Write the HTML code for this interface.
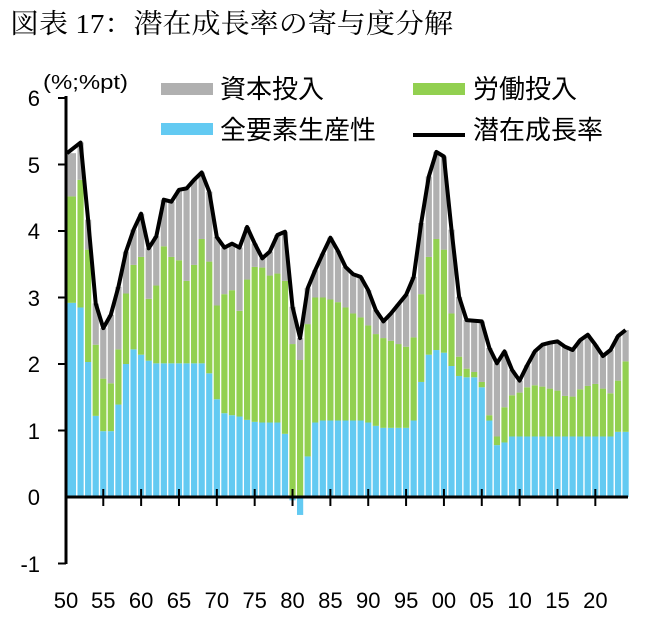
<!DOCTYPE html>
<html><head><meta charset="utf-8">
<style>
body{margin:0;background:#fff;width:672px;height:624px;overflow:hidden}
svg{display:block}
.t{font-family:"Liberation Sans","Noto Sans CJK JP",sans-serif;fill:#000}
</style></head><body>
<svg id="s" width="672" height="624" xmlns="http://www.w3.org/2000/svg">
<text x="10" y="33" textLength="443" lengthAdjust="spacingAndGlyphs" style="font-family:'Liberation Serif','Noto Serif CJK SC',serif;font-size:27px">図表 17：潜在成長率の寄与度分解</text>
<g id="bars"></g>
<polyline id="ln" fill="none" stroke="#000" stroke-width="4" stroke-linejoin="round"/>
<line x1="66" y1="96" x2="66" y2="564" stroke="#000" stroke-width="3"/>
<line x1="66" y1="497" x2="628" y2="497" stroke="#000" stroke-width="3"/>
<g id="ticks" stroke="#000" stroke-width="2"></g>
<g class="t" font-size="22" text-anchor="end">
<text x="40" y="106">6</text><text x="40" y="173">5</text><text x="40" y="239">4</text>
<text x="40" y="306">3</text><text x="40" y="372">2</text><text x="40" y="439">1</text>
<text x="40" y="505">0</text><text x="40" y="572">-1</text>
</g>
<text class="t" x="43" y="89" font-size="20" textLength="85" lengthAdjust="spacingAndGlyphs">(%;%pt)</text>
<g class="t" font-size="22" text-anchor="middle" id="xl"></g>
<rect x="161" y="83" width="52" height="12" fill="#b0b0b0"/>
<text class="t" x="220" y="98" font-size="26">資本投入</text>
<rect x="413" y="83" width="52" height="12" fill="#92d050"/>
<text class="t" x="473" y="98" font-size="26">労働投入</text>
<rect x="161" y="123" width="52" height="12" fill="#63caf2"/>
<text class="t" x="220" y="139" font-size="26">全要素生産性</text>
<line x1="413" y1="135" x2="465" y2="135" stroke="#000" stroke-width="4"/>
<text class="t" x="473" y="139" font-size="26">潜在成長率</text>
</svg>
<script>
var B=[2.92,2.85,2.03,1.22,0.99,0.99,1.39,2.0,2.22,2.14,2.05,2.01,2.01,2.01,2.01,2.01,2.01,2.01,1.86,1.47,1.26,1.23,1.21,1.16,1.13,1.12,1.12,1.12,0.95,-0.05,-0.27,0.61,1.12,1.15,1.15,1.15,1.15,1.15,1.15,1.12,1.07,1.04,1.04,1.04,1.04,1.15,1.73,2.14,2.21,2.17,1.97,1.82,1.80,1.80,1.65,1.15,0.78,0.82,0.91,0.91,0.91,0.91,0.91,0.91,0.91,0.91,0.91,0.91,0.91,0.91,0.91,0.91,0.98,0.98];
var G=[4.52,4.77,3.72,2.29,1.78,1.71,2.22,3.06,3.49,3.61,2.98,3.18,3.77,3.61,3.56,3.25,3.49,3.88,3.54,2.88,3.05,3.11,2.80,3.27,3.46,3.45,3.33,3.36,3.25,2.30,2.06,2.60,3.0,3.0,2.97,2.93,2.85,2.76,2.70,2.58,2.45,2.39,2.35,2.30,2.26,2.40,3.05,3.61,3.88,3.72,2.76,2.11,1.93,1.88,1.73,1.23,0.91,1.35,1.53,1.57,1.65,1.68,1.66,1.63,1.60,1.52,1.51,1.62,1.67,1.70,1.63,1.56,1.75,2.04];
var L=[5.17,5.33,4.17,2.91,2.54,2.74,3.16,3.69,4.02,4.26,3.74,3.92,4.47,4.44,4.62,4.64,4.77,4.88,4.59,3.91,3.75,3.81,3.75,4.06,3.81,3.59,3.69,3.94,3.99,2.86,2.39,3.14,3.41,3.66,3.90,3.70,3.46,3.35,3.31,3.11,2.81,2.64,2.76,2.90,3.04,3.31,4.12,4.82,5.19,5.12,4.02,3.01,2.66,2.65,2.64,2.24,2.01,2.19,1.91,1.75,1.98,2.19,2.29,2.32,2.34,2.26,2.21,2.36,2.44,2.29,2.12,2.21,2.42,2.51];
function Y(v){return 497-v*66.5}
var ns="http://www.w3.org/2000/svg",g=document.getElementById('bars'),pts=[];
function R(x,w,a,b,c){var y1=Y(Math.max(a,b)),y2=Y(Math.min(a,b));var r=document.createElementNS(ns,'rect');r.setAttribute('x',x);r.setAttribute('y',y1);r.setAttribute('width',w);r.setAttribute('height',Math.max(0,y2-y1));r.setAttribute('fill',c);g.appendChild(r);}
for(var i=0;i<74;i++){var cx=73+7.57*i,x=cx-3.1,w=6.2;if(i==0){x=67;w=9;}
var b=B[i],gg=G[i],l=L[i];
R(x,w,0,b,'#63caf2');R(x,w,Math.max(b,0),gg,'#92d050');if(l>gg)R(x,w,gg,l,'#b0b0b0');
pts.push((i==0?67:cx).toFixed(1)+','+Y(l).toFixed(1));}
document.getElementById('ln').setAttribute('points',pts.join(' '));
var tk=document.getElementById('ticks'),xl=document.getElementById('xl');
var labs=['50','55','60','65','70','75','80','85','90','95','00','05','10','15','20'];
for(var k=0;k<15;k++){var x=k==0?66:73+7.57*(5*k-1);
if(k>0){var t=document.createElementNS(ns,'line');t.setAttribute('x1',x);t.setAttribute('x2',x);t.setAttribute('y1',489);t.setAttribute('y2',506);tk.appendChild(t);}
var tx=document.createElementNS(ns,'text');tx.setAttribute('x',k==0?66:x);tx.setAttribute('y',608);tx.textContent=labs[k];xl.appendChild(tx);}
[1,2,3,4,5,6,-1].forEach(function(v){var t=document.createElementNS(ns,'line');t.setAttribute('x1',58);t.setAttribute('x2',66);t.setAttribute('y1',Y(v));t.setAttribute('y2',Y(v));tk.appendChild(t);});
</script>
</body></html>
